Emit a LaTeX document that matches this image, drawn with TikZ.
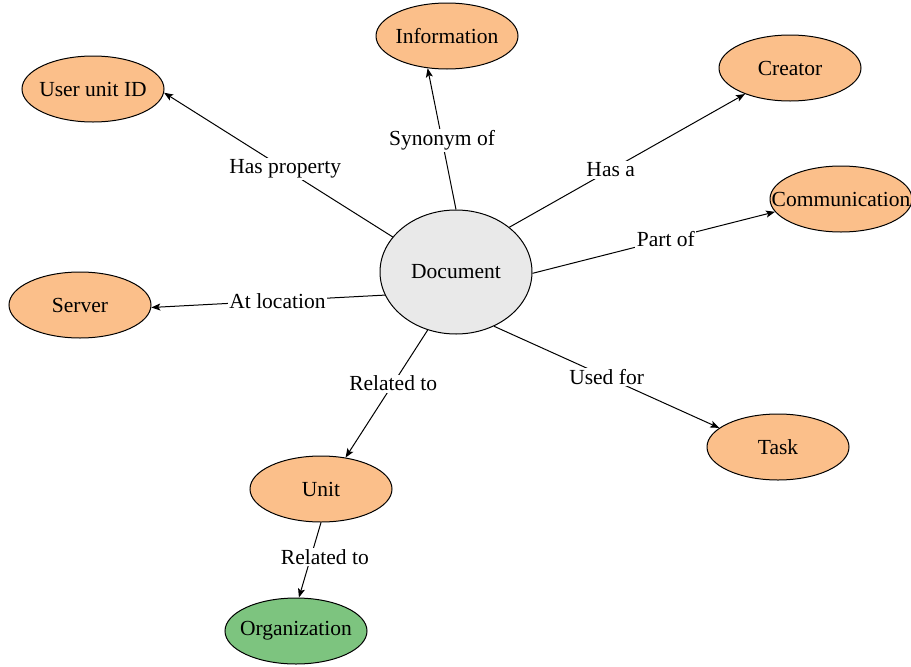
\documentclass[tikz,border=0pt]{standalone}
\usepackage{fontspec}
\setmainfont{Liberation Serif}
\usetikzlibrary{arrows.meta,shapes.geometric}
\definecolor{peach}{HTML}{FBBF8A}
\definecolor{leaf}{HTML}{7DC47F}
\definecolor{hub}{HTML}{E9E9E9}
\begin{document}
\begin{tikzpicture}[x=1pt,y=-1pt,
  font=\fontsize{21.5}{25}\selectfont,
  % fixed-size ellipses: the negative x separation keeps long labels from widening them
  concept/.style={ellipse,draw,line width=1pt,fill=peach,minimum width=142pt,minimum height=66pt,inner ysep=0pt,inner xsep=-14pt},
  central/.style={ellipse,draw,line width=1pt,fill=hub,minimum width=152pt,minimum height=124pt,inner sep=0pt},
  rel/.style={line width=1pt,-{Stealth[length=9pt,width=7pt,inset=2pt]}},
  lbl/.style={fill=white,inner sep=1.5pt}]
\useasboundingbox (0,0) rectangle (911,667);
\node[central] (doc) at (456,272) {Document};
\node[concept] (info) at (447,36) {Information};
\node[concept] (uid) at (93,89) {User unit ID};
\node[concept] (creator) at (790,68) {Creator};
% the label is wider than the ellipse and runs past its border
\node[concept,inner xsep=-25pt] (comm) at (841,199) {Communication};
\node[concept] (server) at (80,305) {Server};
\node[concept] (task) at (778,447) {Task};
\node[concept] (unit) at (321,489) {Unit};
\node[concept,fill=leaf] (org) at (296,631) {Organization};
\draw[rel] (doc.151) -- node[lbl,pos=.47] {Has property} (uid.-3);
\draw[rel] (doc.90) -- node[lbl,pos=.49] {Synonym of} (info.-121);
\draw[rel] (doc.40) -- node[lbl,pos=.43] {Has a} (creator.210);
\draw[rel] (doc.-1) -- node[lbl,pos=.55] {Part of} (comm.191);
\draw[rel] (doc.198) -- node[lbl,pos=.46] {At location} (server.-2);
\draw[rel] (doc.244) -- node[lbl,pos=.42] {Related to} (unit.52);
\draw[rel] (doc.305) -- node[lbl,pos=.5] {Used for} (task.162);
\draw[rel] (unit.270) -- node[lbl,pos=.46,xshift=14pt] {Related to} (org.85);
\end{tikzpicture}
\end{document}
